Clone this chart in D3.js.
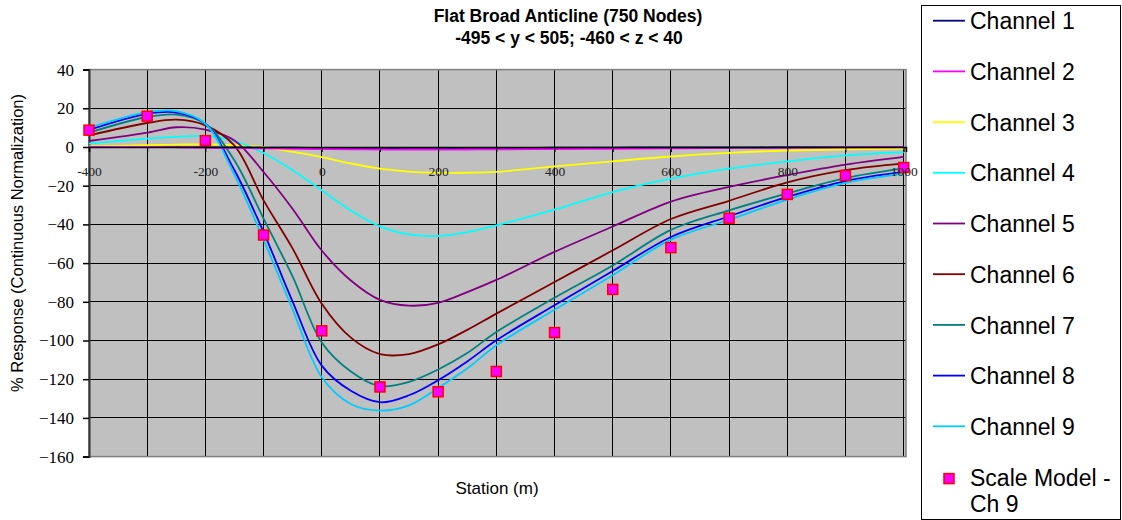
<!DOCTYPE html>
<html>
<head>
<meta charset="utf-8">
<script src="https://cdn.jsdelivr.net/npm/d3@7"></script>
<style>
  html, body { margin: 0; padding: 0; background: #ffffff; }
  svg { display: block; }
</style>
</head>
<body>
<svg id="chart" width="1122" height="520"></svg>
<script>
// Station positions (m) at which each channel response is sampled
const stations = [-400, -300, -250, -200, -150, -100, -50, 0, 50, 100, 150, 200, 250, 300, 400, 500, 600, 700, 800, 900, 1000];

// Channel responses (% of continuous normalization)
const channel1 = [0, 0, 0, -0.1, -0.2, -0.3, -0.4, -0.5, -0.5, -0.6, -0.6, -0.6, -0.5, -0.5, -0.4, -0.3, -0.2, -0.2, -0.1, -0.1, 0];
const channel2 = [0, 0, -0.1, -0.3, -0.5, -0.7, -0.9, -1.1, -1.2, -1.3, -1.3, -1.3, -1.3, -1.2, -1.1, -0.9, -0.7, -0.5, -0.4, -0.2, -0.1];
const channel3 = [0.3, 0.9, 1.2, 1.4, 0.9, 0, -2.5, -5.2, -8.5, -11.2, -12.7, -13.3, -13.3, -12.9, -10, -7.4, -4.9, -3, -1.8, -1.2, -0.8];
const channel4 = [1.7, 4.3, 5.2, 5.7, 3.1, -3.1, -12, -22.4, -32.8, -41, -45.2, -46, -44, -40.5, -32.4, -23.3, -16.4, -11.2, -7.4, -4.3, -2.6];
const channel5 = [3.1, 7.4, 10.2, 9.0, 3.4, -12.9, -32, -53.5, -69, -79, -82, -80.5, -75, -68.7, -54.2, -41.1, -28.2, -20.6, -14.5, -9.1, -5.1];
const channel6 = [6, 12.4, 14.1, 11.2, 0.7, -27.6, -52.5, -81, -98.5, -107, -107, -102, -94.5, -86.1, -69.8, -53.4, -37.2, -27.8, -18.3, -12, -8.5];
const channel7 = [7.4, 15.5, 16.7, 12, -7, -37, -67, -101, -116, -123.6, -121.4, -115, -106.5, -95.6, -77.9, -61.2, -42.8, -32.7, -24, -16.1, -11.1];
const channel8 = [8.8, 17.1, 17.8, 12, -12, -44, -80, -113, -126, -131.9, -128.3, -120.5, -110.8, -99.9, -81.8, -64.1, -46.5, -35.8, -25.8, -17.6, -12.9];
const channel9 = [9.8, 18, 18.5, 12, -14.5, -48, -84, -119, -132.8, -136.2, -133.5, -124.5, -114.5, -102.5, -84.1, -66.3, -47.9, -37.6, -27.2, -18.6, -13.8];

// Scale model measurements for channel 9
const modelStations = [-400, -300, -200, -100, 0, 100, 200, 300, 400, 500, 600, 700, 800, 900, 1000];
const modelValues = [8.7, 15.9, 3.3, -45.5, -95, -124, -126.5, -116, -95.9, -73.6, -52, -36.8, -24.5, -14.7, -10.6];

// Axis ticks
const xTicks = [-400, -300, -200, -100, 0, 100, 200, 300, 400, 500, 600, 700, 800, 900, 1000];
const xTickLabels = ["-400", "", "-200", "", "0", "", "200", "", "400", "", "600", "", "800", "", "1000"];
const yTicks = [-160, -140, -120, -100, -80, -60, -40, -20, 0, 20, 40];

const seriesNames = ["Channel 1", "Channel 2", "Channel 3", "Channel 4", "Channel 5", "Channel 6", "Channel 7", "Channel 8", "Channel 9"];
const seriesValues = [channel1, channel2, channel3, channel4, channel5, channel6, channel7, channel8, channel9];
const seriesColors = ["#000080", "#FF00FF", "#FFFF00", "#00FFFF", "#800080", "#800000", "#008080", "#0000FF", "#00CCFF"];
const modelName = ["Scale Model -", "Ch 9"];

const titleLines = ["Flat Broad Anticline (750 Nodes)", "-495 < y < 505; -460 < z < 40"];
const xTitle = "Station (m)";
const yTitle = "% Response (Continuous Normalization)";

const svg = d3.select("#chart");
const plot = { left: 89, right: 906, top: 69.6, bottom: 456.6 };

const x = d3.scaleLinear().domain([-400, 1004]).range([plot.left, plot.right]);
const y = d3.scaleLinear().domain([-160, 40]).range([plot.bottom, plot.top]);

const serif = "'Liberation Serif', 'Times New Roman', serif";
const sans = "'Liberation Sans', Arial, sans-serif";

// Plot background
svg.append("rect")
  .attr("x", plot.left).attr("y", plot.top)
  .attr("width", plot.right - plot.left).attr("height", plot.bottom - plot.top)
  .attr("fill", "#C0C0C0");

// Gridlines
const grid = svg.append("g").attr("shape-rendering", "crispEdges");
grid.selectAll("line.v").data(xTicks).join("line")
  .attr("x1", d => x(d)).attr("x2", d => x(d))
  .attr("y1", plot.top).attr("y2", plot.bottom)
  .attr("stroke", "#000").attr("stroke-width", 1);
grid.selectAll("line.h").data(yTicks).join("line")
  .attr("x1", plot.left).attr("x2", plot.right)
  .attr("y1", d => y(d)).attr("y2", d => y(d))
  .attr("stroke", "#000").attr("stroke-width", 1);

// Plot border
svg.append("rect")
  .attr("x", plot.left).attr("y", plot.top)
  .attr("width", plot.right - plot.left).attr("height", plot.bottom - plot.top)
  .attr("fill", "none").attr("stroke", "#808080").attr("stroke-width", 1.5);

// Y axis
const yAxis = svg.append("g")
  .attr("transform", `translate(${plot.left},0)`)
  .attr("font-family", serif)
  .call(d3.axisLeft(y).tickValues(yTicks).tickSize(6).tickPadding(9).tickFormat(d3.format("d")));
yAxis.attr("font-family", serif).attr("font-size", 17);
yAxis.select(".domain").attr("stroke", "#333").attr("stroke-width", 2);
yAxis.selectAll(".tick line").attr("stroke", "#000").attr("stroke-width", 1.5);
yAxis.selectAll("text").attr("font-family", serif).attr("font-size", 17).attr("fill", "#000");

// Channel curves
const line = d3.line()
  .x((d, i) => x(stations[i]))
  .y(d => y(d))
  .curve(d3.curveCatmullRom.alpha(0.5));

svg.append("defs").append("clipPath").attr("id", "plotClip")
  .append("rect")
  .attr("x", plot.left).attr("y", plot.top)
  .attr("width", plot.right - plot.left).attr("height", plot.bottom - plot.top);

const curves = svg.append("g").attr("clip-path", "url(#plotClip)");
// Draw order: 3 and 4 first, then 5..9, then 1 and 2 on top
const order = [2, 3, 4, 5, 6, 7, 8, 0, 1];
order.forEach(i => {
  curves.append("path")
    .datum(seriesValues[i])
    .attr("d", line)
    .attr("fill", "none")
    .attr("stroke", seriesColors[i])
    .attr("stroke-width", 1.8);
});

// Scale model markers
const mSize = 10;
svg.append("g").selectAll("rect").data(modelValues).join("rect")
  .attr("x", (d, i) => x(modelStations[i]) - mSize / 2)
  .attr("y", d => y(d) - mSize / 2)
  .attr("width", mSize).attr("height", mSize)
  .attr("fill", "#FF00FF").attr("stroke", "#FF0000").attr("stroke-width", 1.5);

// X axis along the zero line, labels just below it (drawn over the data)
const xAxis = svg.append("g")
  .attr("transform", `translate(0,${y(0)})`)
  .call(d3.axisBottom(x).tickValues(xTicks).tickSize(5).tickFormat((d, i) => xTickLabels[i]));
xAxis.attr("font-family", serif).attr("font-size", 13.5);
xAxis.select(".domain").attr("stroke", "#000").attr("stroke-width", 1.5);
xAxis.selectAll(".tick line").attr("stroke", "#000").attr("stroke-width", 1);
xAxis.selectAll("text")
  .attr("font-family", serif).attr("font-size", 13.5).attr("fill", "#222")
  .attr("dy", null).attr("y", 28.5);

// Title
svg.append("text")
  .attr("x", 568).attr("y", 22)
  .attr("text-anchor", "middle")
  .attr("font-family", sans).attr("font-weight", "bold").attr("font-size", 17.5)
  .text(titleLines[0]);
svg.append("text")
  .attr("x", 569).attr("y", 44.3)
  .attr("text-anchor", "middle")
  .attr("font-family", sans).attr("font-weight", "bold").attr("font-size", 17.5)
  .text(titleLines[1]);

// Axis titles
svg.append("text")
  .attr("x", 497).attr("y", 494)
  .attr("text-anchor", "middle")
  .attr("font-family", sans).attr("font-size", 17)
  .text(xTitle);
svg.append("text")
  .attr("transform", "translate(23,243) rotate(-90)")
  .attr("text-anchor", "middle")
  .attr("font-family", sans).attr("font-size", 16.5)
  .text(yTitle);

// Legend
const legend = svg.append("g");
legend.append("rect")
  .attr("x", 921.5).attr("y", 5.5).attr("width", 199).attr("height", 514)
  .attr("fill", "#fff").attr("stroke", "#000").attr("stroke-width", 1);

const rowGap = 50.7;
seriesNames.forEach((name, i) => {
  const base = 29.3 + i * rowGap;
  legend.append("line")
    .attr("x1", 933).attr("x2", 965)
    .attr("y1", base - 8.6).attr("y2", base - 8.6)
    .attr("stroke", seriesColors[i]).attr("stroke-width", 1.8);
  legend.append("text")
    .attr("x", 970).attr("y", base)
    .attr("font-family", sans).attr("font-size", 23)
    .text(name);
});
const mBase = 29.3 + 9 * rowGap;
legend.append("rect")
  .attr("x", 949 - mSize / 2).attr("y", mBase - 7 - mSize / 2)
  .attr("width", mSize).attr("height", mSize)
  .attr("fill", "#FF00FF").attr("stroke", "#FF0000").attr("stroke-width", 1.5);
modelName.forEach((t, i) => {
  legend.append("text")
    .attr("x", 970).attr("y", mBase + i * 26.7)
    .attr("font-family", sans).attr("font-size", 23)
    .text(t);
});
</script>
</body>
</html>
